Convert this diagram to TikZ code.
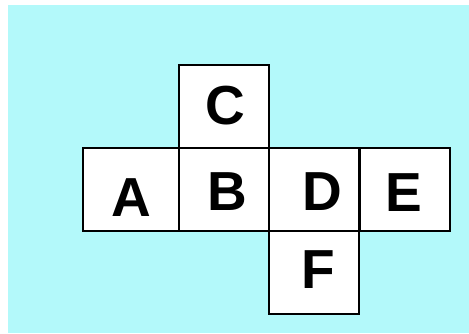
\documentclass[tikz,border=0pt]{standalone}
\usepackage{fontspec}
\setmainfont{Liberation Sans}
\definecolor{netbg}{HTML}{B3F9FA}
\begin{document}
\begin{tikzpicture}[x=1pt,y=-1pt,
  face/.style={draw,line width=2pt,fill=white,minimum width=90pt,minimum height=83pt,inner sep=0pt},
  letter/.style={font=\fontsize{55}{55}\selectfont\bfseries,inner sep=0pt}]
 \useasboundingbox[fill=white] (0,0) rectangle (469,333);
 \fill[netbg] (8,5) rectangle (469,333);
 \node[face,minimum width=96pt] (A) at (131,189.5) {};
 \foreach \n/\x/\y in {C/224/106,B/224/189.5,D/314/189.5,E/404.5/189.5,F/314/272.5}
   \node[face] (\n) at (\x,\y) {};
 \foreach \n/\dx/\dy in {A/0/8.5,B/3/2.5,C/1/0,D/8/2.5,E/-1/3.5,F/4/-2.5}
   \node[letter] (\n-txt) at ([shift={(\dx,\dy)}]\n.center) {\n};
\end{tikzpicture}
\end{document}
